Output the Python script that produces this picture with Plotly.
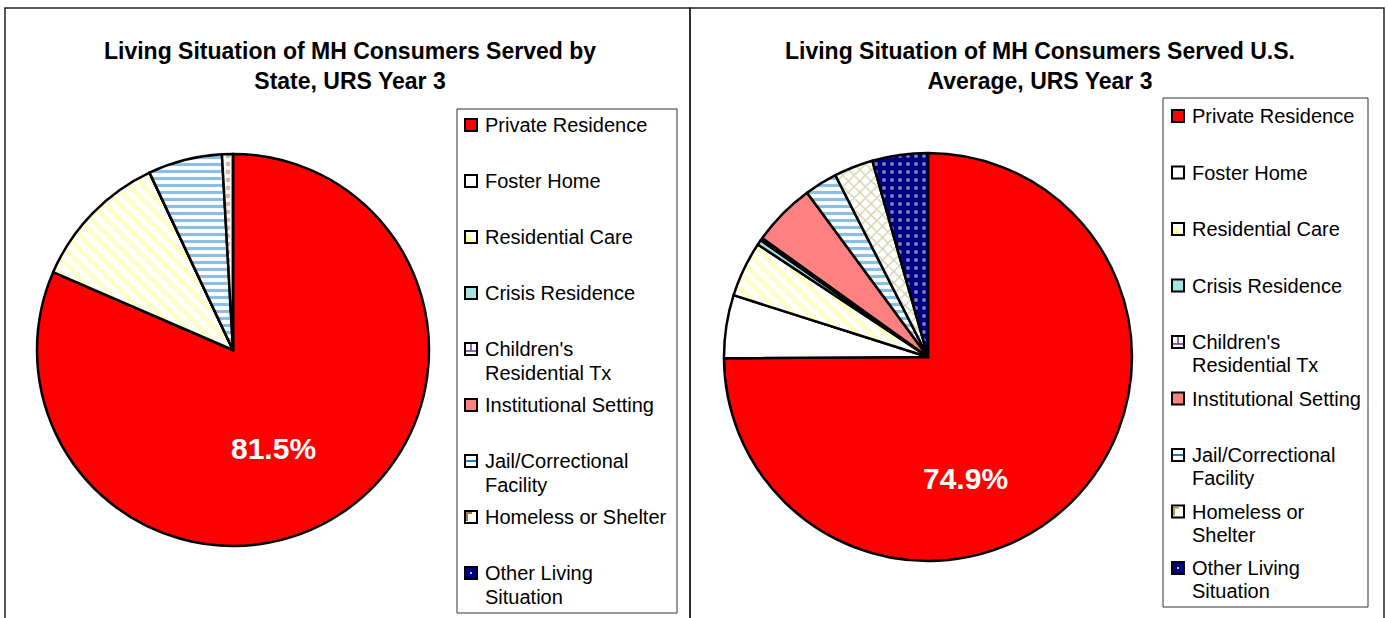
import plotly.graph_objects as go

W, H = 1388, 618

# ---------------- data ----------------
categories = ["Private Residence", "Foster Home", "Residential Care", "Crisis Residence",
              "Children's Residential Tx", "Institutional Setting",
              "Jail/Correctional Facility", "Homeless or Shelter", "Other Living Situation"]
state_values = [81.5, 0.0, 11.5, 0.0, 0.0, 0.0, 6.1, 0.9, 0.0]
us_values = [74.9, 5.0, 4.4, 0.4, 0.2, 5.0, 2.6, 3.1, 4.4]

left_title = "Living Situation of MH Consumers Served by<br>State, URS Year 3"
right_title = "Living Situation of MH Consumers Served U.S.<br>Average, URS Year 3"

left_legend_lines = [["Private Residence"], ["Foster Home"], ["Residential Care"],
                     ["Crisis Residence"], ["Children's", "Residential Tx"],
                     ["Institutional Setting"], ["Jail/Correctional", "Facility"],
                     ["Homeless or Shelter"], ["Other Living", "Situation"]]
right_legend_lines = [["Private Residence"], ["Foster Home"], ["Residential Care"],
                      ["Crisis Residence"], ["Children's", "Residential Tx"],
                      ["Institutional Setting"], ["Jail/Correctional", "Facility"],
                      ["Homeless or", "Shelter"], ["Other Living", "Situation"]]

# ---------------- styles ----------------
base_colors = ["#FF0000", "#FFFFFF", "#FFFFFF", "#A6E3E3", "#FFFFFF",
               "#FF8080", "#FFFFFF", "#FFFFFF", "#000080"]
left_shapes = ["", "", "\\", "", "+", "", "-", ".", "."]
right_shapes = ["", "", "\\", "", "+", "", "-", "x", "."]
left_fg = ["#FF0000", "#FFFFFF", "#FFFF90", "#A6E3E3", "#7030A0",
           "#FF8080", "#1580C8", "#B07840", "#FFFFFF"]
right_fg = ["#FF0000", "#FFFFFF", "#FFFF90", "#A6E3E3", "#7030A0",
            "#FF8080", "#1580C8", "#A0A050", "#FFFFFF"]
sizes = [8, 8, 10, 8, 8, 8, 7, 8, 8]
solid = [0.3, 0.3, 0.5, 0.3, 0.2, 0.3, 0.45, 0.3, 0.18]

FONT = "Liberation Sans, Arial, sans-serif"


def px_x(x):
    return x / W


def px_y(y):
    return 1 - y / H


fig = go.Figure()

pies = [
    (state_values, left_shapes, left_fg, (233, 350, 196), (273, 448)),
    (us_values, right_shapes, right_fg, (928, 357, 204), (965, 478)),
]
annotations = []
for vals, shp, fg, (cx, cy, r), (lx, ly) in pies:
    fig.add_trace(go.Pie(
        labels=categories, values=vals, sort=False, direction="clockwise", rotation=0,
        textinfo="none",
        marker=dict(colors=base_colors, line=dict(color="black", width=2.5),
                    pattern=dict(shape=shp, fgcolor=fg, bgcolor=base_colors,
                                 fillmode="overlay", size=sizes, solidity=solid)),
        domain=dict(x=[px_x(cx - r), px_x(cx + r)], y=[px_y(cy + r), px_y(cy - r)]),
        showlegend=False, hoverinfo="label+percent",
    ))
    # data label of the largest slice
    annotations.append(dict(text=f"<b>{vals[0]}%</b>", x=px_x(lx), y=px_y(ly),
                            xref="paper", yref="paper", xanchor="center", yanchor="middle",
                            showarrow=False,
                            font=dict(family=FONT, size=30, color="white")))

shapes = []

# panel borders
for x0, x1 in [(5, 690), (690, 1384)]:
    shapes.append(dict(type="rect", xref="paper", yref="paper",
                       x0=px_x(x0), x1=px_x(x1), y0=px_y(640), y1=px_y(8),
                       line=dict(color="#222222", width=1.5), fillcolor="rgba(0,0,0,0)"))

# titles
for txt, cx in [(left_title, 350), (right_title, 1040)]:
    annotations.append(dict(text=f"<b>{txt}</b>", x=px_x(cx), y=px_y(65.5),
                            xref="paper", yref="paper", xanchor="center", yanchor="middle",
                            showarrow=False,
                            font=dict(family=FONT, size=23, color="black")))

# legends (manual)
legends = [
    dict(lines=left_legend_lines, box=(457, 109, 677, 613), sw=471, tx=483,
         y0=125, dy=56, l2=24, fg=left_fg, shp=left_shapes),
    dict(lines=right_legend_lines, box=(1163, 98, 1368, 607), sw=1178, tx=1190,
         y0=116, dy=56.5, l2=23, fg=right_fg, shp=right_shapes),
]
for lg in legends:
    bx0, by0, bx1, by1 = lg["box"]
    shapes.append(dict(type="rect", xref="paper", yref="paper",
                       x0=px_x(bx0), x1=px_x(bx1), y0=px_y(by1), y1=px_y(by0),
                       line=dict(color="#333333", width=1), fillcolor="white", layer="below"))
    for i, lines in enumerate(lg["lines"]):
        yc = lg["y0"] + i * lg["dy"]
        s = 6
        sw = lg["sw"]
        shapes.append(dict(type="rect", xref="paper", yref="paper",
                           x0=px_x(sw - s), x1=px_x(sw + s),
                           y0=px_y(yc + s), y1=px_y(yc - s),
                           line=dict(color="black", width=2), fillcolor=base_colors[i]))
        sh = lg["shp"][i]
        fgc = lg["fg"][i]
        if sh == "\\":
            path = (f"M {px_x(sw-5)},{px_y(yc+5)} L {px_x(sw-5)},{px_y(yc-4)} "
                    f"L {px_x(sw+4)},{px_y(yc+5)} Z")
            shapes.append(dict(type="path", xref="paper", yref="paper", path=path,
                               fillcolor="#FFFF99", line=dict(width=0)))
        elif sh == "-":
            shapes.append(dict(type="line", xref="paper", yref="paper",
                               x0=px_x(sw - 5), x1=px_x(sw + 5),
                               y0=px_y(yc), y1=px_y(yc), line=dict(color=fgc, width=2)))
        elif sh == "+":
            shapes.append(dict(type="line", xref="paper", yref="paper",
                               x0=px_x(sw - 5), x1=px_x(sw + 5),
                               y0=px_y(yc + 2), y1=px_y(yc + 2), line=dict(color=fgc, width=1.5)))
            shapes.append(dict(type="line", xref="paper", yref="paper",
                               x0=px_x(sw), x1=px_x(sw),
                               y0=px_y(yc - 5), y1=px_y(yc + 2), line=dict(color=fgc, width=1.5)))
        elif sh in (".", "x"):
            if base_colors[i] == "#000080":
                shapes.append(dict(type="circle", xref="paper", yref="paper",
                                   x0=px_x(sw - 1), x1=px_x(sw + 1),
                                   y0=px_y(yc + 1), y1=px_y(yc - 1),
                                   fillcolor="white", line=dict(width=0)))
            else:
                shapes.append(dict(type="path", xref="paper", yref="paper",
                                   path=(f"M {px_x(sw-4)},{px_y(yc+4)} L {px_x(sw-4)},{px_y(yc-4)} "
                                         f"L {px_x(sw+1)},{px_y(yc-4)}"),
                                   line=dict(color=fgc, width=2)))
        for j, line in enumerate(lines):
            annotations.append(dict(text=line, x=px_x(lg["tx"]), y=px_y(yc + j * lg["l2"]),
                                    xref="paper", yref="paper", xanchor="left",
                                    yanchor="middle", showarrow=False,
                                    font=dict(family=FONT, size=20, color="black")))

fig.update_layout(width=W, height=H, margin=dict(l=0, r=0, t=0, b=0),
                  paper_bgcolor="white", plot_bgcolor="white",
                  shapes=shapes, annotations=annotations, showlegend=False)

fig.write_html("out.html", config={"displayModeBar": False},
               post_script="document.body.style.margin='0';")
